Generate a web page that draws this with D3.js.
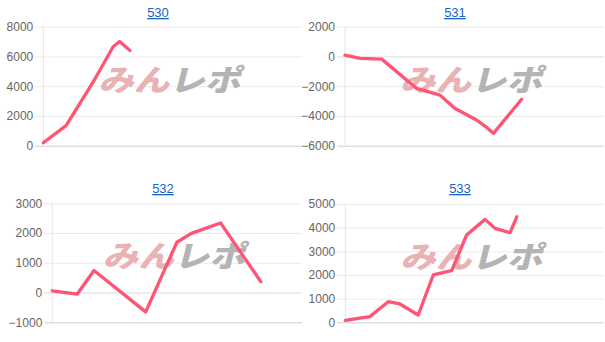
<!DOCTYPE html>
<html lang="ja">
<head>
<meta charset="UTF-8">
<title>530-533</title>
<script src="https://cdn.jsdelivr.net/npm/d3@7"></script>
<style>
  body { margin: 0; background: #fff; }
  svg { display: block; }
</style>
</head>
<body>
<svg id="mainsvg" width="605" height="342"></svg>
<script>
// machine numbers
const titles = ["530", "531", "532", "533"];

// x position along the day (0-100), difference in medals
const x530 = [0, 8.8, 19, 27, 29.5, 33.5];
const y530 = [200, 1350, 4200, 6650, 7000, 6400];

const x531 = [0, 5.8, 14.2, 27.7, 36.7, 42.5, 50.8, 54.7, 57.3, 68.2];
const y531 = [90, -130, -180, -2150, -2600, -3500, -4270, -4770, -5170, -2880];

const x532 = [0, 10, 16.7, 37.4, 49.9, 55.7, 67.4, 83.5];
const y532 = [60, -50, 740, -650, 1690, 1990, 2340, 365];

const x533 = [0, 9.5, 16.6, 21.1, 28.2, 34.0, 41.1, 46.9, 54.0, 57.9, 63.7, 66.3];
const y533 = [80, 240, 870, 775, 310, 2000, 2180, 3690, 4350, 3970, 3790, 4460];

// y tick labels
const ticks530 = [0, 2000, 4000, 6000, 8000];
const ticks531 = [-6000, -4000, -2000, 0, 2000];
const ticks532 = [-1000, 0, 1000, 2000, 3000];
const ticks533 = [0, 1000, 2000, 3000, 4000, 5000];

const series = [
  {x: x530, y: y530, ticks: ticks530},
  {x: x531, y: y531, ticks: ticks531},
  {x: x532, y: y532, ticks: ticks532},
  {x: x533, y: y533, ticks: ticks533}
];

// layout of the four small charts
const layout = [
  {tx: 158, ty: 17, left: 43.3, right: 302, top: 26.7, bottom: 145.7},
  {tx: 455, ty: 17, left: 345, right: 604, top: 26.7, bottom: 145.7},
  {tx: 163, ty: 193, left: 52.3, right: 302, top: 203.3, bottom: 322.3},
  {tx: 460, ty: 193, left: 345.3, right: 604, top: 204, bottom: 322.3}
];

const svg = d3.select("#mainsvg");
const lineColor = "rgb(255, 84, 115)";

series.forEach((s, i) => {
  const L = layout[i];
  const g = svg.append("g");

  const xScale = d3.scaleLinear().domain([0, 100]).range([L.left, L.right]);
  const yScale = d3.scaleLinear()
    .domain(d3.extent(s.ticks)).range([L.bottom, L.top]);

  // title (link style)
  g.append("text")
    .text(titles[i])
    .attr("x", L.tx).attr("y", L.ty)
    .attr("text-anchor", "middle")
    .attr("font-family", "Liberation Sans, Arial, sans-serif")
    .attr("font-size", 13)
    .attr("fill", "#1a64c8")
    .attr("text-decoration", "underline");

  // y axis with grid lines
  const yAxis = d3.axisLeft(yScale)
    .tickValues(s.ticks)
    .tickSizeInner(-(L.right - L.left + 8))
    .tickSizeOuter(0)
    .tickPadding(2)
    .tickFormat(d3.format("d"));
  const ax = g.append("g")
    .attr("transform", `translate(${L.left - 8},0)`)
    .call(yAxis);
  ax.select(".domain").remove();
  ax.selectAll(".tick line")
    .attr("stroke", d => d === s.ticks[0] ? "#cfcfcf" : (d === 0 ? "#dadada" : "#ebebeb"))
    .attr("stroke-width", 1);
  ax.selectAll(".tick text")
    .attr("font-family", "Liberation Sans, Arial, sans-serif")
    .attr("font-size", 12)
    .attr("fill", "#666");

  // vertical axis line
  g.append("line")
    .attr("x1", L.left).attr("x2", L.left)
    .attr("y1", L.top).attr("y2", L.bottom)
    .attr("stroke", "#e6e6e6");

  // watermark
  const wm = g.append("text")
    .attr("transform", `translate(${(L.left + L.right) / 2},${L.top + (L.bottom - L.top) * 0.43}) skewX(-14)`)
    .attr("text-anchor", "middle")
    .attr("dominant-baseline", "central")
    .attr("font-family", "Noto Sans CJK JP, sans-serif")
    .attr("font-weight", 900)
    .attr("font-size", 30)
    .attr("textLength", 142)
    .attr("lengthAdjust", "spacingAndGlyphs");
  wm.append("tspan").text("みん").attr("fill", "#e9b3b6");
  wm.append("tspan").text("レポ").attr("fill", "#b4b4b4");

  // line
  const pts = s.x.map((v, k) => [v, s.y[k]]);
  g.append("path")
    .datum(pts)
    .attr("fill", "none")
    .attr("stroke", lineColor)
    .attr("stroke-width", 3.3)
    .attr("stroke-linejoin", "round")
    .attr("stroke-linecap", "round")
    .attr("d", d3.line().x(d => xScale(d[0])).y(d => yScale(d[1])));
});
</script>
</body>
</html>
